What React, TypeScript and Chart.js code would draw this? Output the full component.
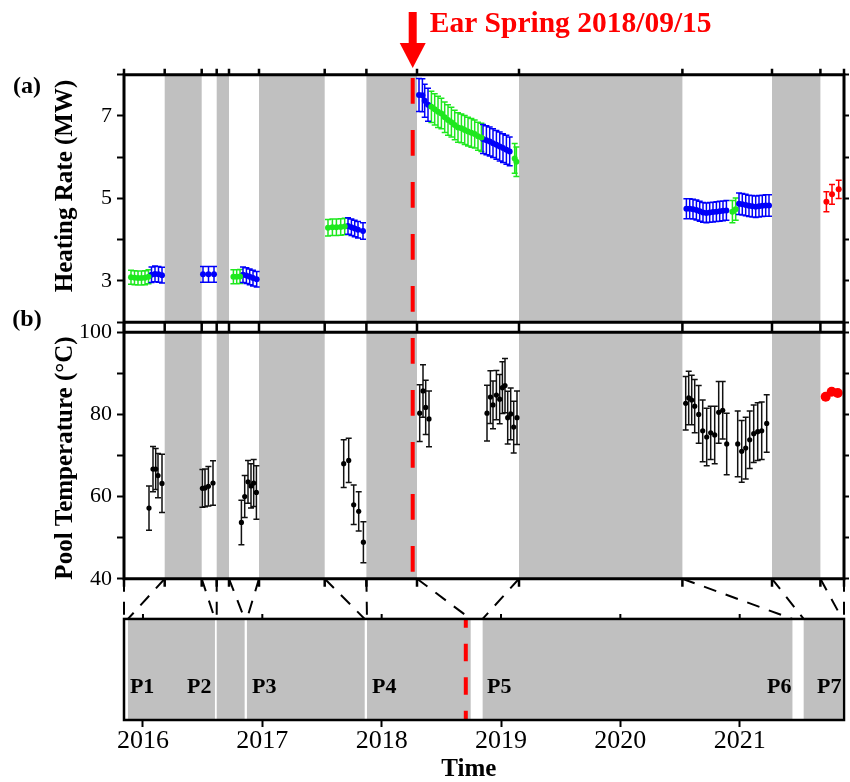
import React, { useEffect, useRef } from 'react';
import { Chart, registerables } from 'chart.js';

Chart.register(...registerables);

const FONT = "'Liberation Serif', 'Times New Roman', serif";

// ---- periods: compressed axis (panels a, b) and real time axis (decimal years)
const periodNames = ['P1', 'P2', 'P3', 'P4', 'P5', 'P6', 'P7'];
const periodCompStart = [0, 77.7, 105, 200.7, 293, 558.4, 696.4];
const periodCompEnd = [40.7, 92.7, 135, 242.4, 395, 648, 720];
const periodYearStart = [2015.841, 2016.603, 2016.852, 2017.858, 2018.746, 2021.442, 2021.86];
const periodYearEnd = [2015.874, 2016.618, 2016.871, 2017.877, 2018.846, 2021.536, 2021.874];
const periodLabelYear = [2015.993, 2016.471, 2017.016, 2018.021, 2018.985, 2021.331, 2021.75];
const periodLabelLevel = 0.32;
const compMin = 0;
const compMax = 720;
const yearMin = 2015.841;
const yearMax = 2021.874;
const timeTitleYear = 2018.73;
const earSpringComp = 288.7;
const earSpringYear = 2018.705;
const earSpringLabel = 'Ear Spring 2018/09/15';

// ---- panel (a) heating rate (MW)
const aGreenX = [7, 10.5, 14, 17.5, 21, 24.5, 109.4, 112.7, 116, 204, 208.4, 212.4, 216.7, 220.7,
  307.4, 310.7, 314, 317.4, 320.7, 324, 327.4, 330.7, 334, 337.4, 340.7, 344, 347.4, 350.7, 354, 357.4,
  390.7, 392.4, 608.4, 611.7];
const aGreenY = [3.09, 3.08, 3.07, 3.07, 3.08, 3.1, 3.1, 3.1, 3.11, 4.29, 4.3, 4.3, 4.31, 4.32,
  7.22, 7.16, 7.1, 7.06, 6.97, 6.9, 6.85, 6.78, 6.72, 6.7, 6.66, 6.62, 6.59, 6.56, 6.51, 6.48,
  5.97, 5.89, 4.68, 4.74];
const aGreenErr = [0.17, 0.17, 0.17, 0.17, 0.17, 0.17, 0.17, 0.17, 0.17, 0.2, 0.2, 0.2, 0.2, 0.2,
  0.38, 0.38, 0.38, 0.37, 0.37, 0.37, 0.36, 0.36, 0.36, 0.35, 0.35, 0.35, 0.35, 0.34, 0.34, 0.34,
  0.36, 0.36, 0.27, 0.27];

const aBlueX = [27.5, 31, 34.5, 38, 79, 84.5, 90, 119, 122.4, 125.7, 129, 132.7, 224, 227.4, 230.7, 234, 239,
  295, 298.4, 300.7, 304, 359, 362.4, 365.7, 369, 372.4, 375.7, 379, 382.4, 385.7,
  562.4, 565.7, 569, 572.4, 575.7, 579, 582.4, 585.7, 589, 592.4, 595.7, 599, 602.4,
  615, 618.3, 621.7, 625, 628.3, 631.7, 635, 638.3, 641.7, 645];
const aBlueY = [3.15, 3.17, 3.16, 3.14, 3.16, 3.16, 3.16, 3.15, 3.13, 3.1, 3.07, 3.04, 4.33, 4.3, 4.27, 4.24, 4.21,
  7.51, 7.5, 7.37, 7.27, 6.44, 6.41, 6.38, 6.34, 6.3, 6.26, 6.22, 6.18, 6.14,
  4.75, 4.75, 4.74, 4.72, 4.69, 4.66, 4.65, 4.66, 4.67, 4.68, 4.69, 4.7, 4.71,
  4.87, 4.86, 4.84, 4.82, 4.81, 4.8, 4.81, 4.82, 4.83, 4.83];
const aBlueErr = [0.19, 0.19, 0.19, 0.19, 0.19, 0.19, 0.19, 0.19, 0.19, 0.19, 0.19, 0.19, 0.2, 0.2, 0.2, 0.2, 0.2,
  0.4, 0.4, 0.4, 0.4, 0.35, 0.35, 0.35, 0.35, 0.35, 0.35, 0.35, 0.35, 0.35,
  0.24, 0.24, 0.24, 0.24, 0.24, 0.24, 0.24, 0.24, 0.24, 0.24, 0.24, 0.24, 0.24,
  0.26, 0.26, 0.26, 0.26, 0.26, 0.26, 0.26, 0.26, 0.26, 0.26];

const aRedX = [702.4, 708, 714.7];
const aRedY = [4.92, 5.1, 5.22];
const aRedErr = [0.24, 0.24, 0.22];

// ---- panel (b) pool temperature (°C)
const bX = [25, 29, 31.7, 34, 38, 78.4, 81, 84.4, 89, 117.4, 120.7, 124, 127, 129.7, 132.4,
  219.7, 224.7, 229.7, 234.7, 239.4, 295.7, 299, 301.7, 305,
  363, 366.4, 369, 372.4, 375.7, 378.4, 381, 383.7, 386.7, 389.7, 393,
  561.7, 564.7, 567.7, 570.7, 574.7, 578.7, 582.7, 586.7, 590.7, 594.7, 598.7, 602.7,
  613.7, 617.7, 621.7, 625.7, 629.7, 633.7, 637.7, 642.7];
const bY = [57.2, 66.7, 66.7, 65.1, 63.2, 62.0, 62.1, 62.5, 63.3, 53.7, 60.0, 63.6, 62.6, 63.3, 61.0,
  68.0, 68.8, 58.0, 56.4, 48.9, 80.3, 85.7, 81.7, 78.9,
  80.3, 84.2, 82.3, 84.7, 83.7, 86.5, 87.0, 79.2, 80.1, 76.9, 79.2,
  82.7, 84.0, 83.5, 82.0, 80.0, 76.0, 74.5, 75.5, 75.0, 80.5, 81.0, 72.8,
  72.8, 71.0, 71.8, 73.8, 75.3, 75.8, 76.0, 77.8];
const bErr = [5.4, 5.5, 5.0, 5.4, 7.1, 4.6, 4.6, 4.8, 5.4, 5.4, 5.1, 5.2, 5.4, 5.7, 6.5,
  5.8, 5.4, 4.8, 4.8, 5.0, 6.9, 6.4, 6.6, 6.8,
  6.8, 6.4, 5.8, 6.0, 6.0, 6.3, 6.6, 6.4, 6.3, 6.3, 6.5,
  6.5, 6.5, 6.0, 6.5, 7.0, 7.5, 7.0, 6.5, 7.0, 7.5, 7.0, 7.5,
  8.0, 7.5, 7.5, 7.0, 7.0, 7.0, 7.0, 7.0];
const bRedX = [701.7, 707.7, 713.7];
const bRedY = [84.3, 85.5, 85.2];

const GRAY = 'rgb(192,192,192)';
const GREEN = 'rgb(30,232,30)';
const BLUE = 'rgb(0,0,250)';
const RED = 'rgb(255,0,0)';

const pts = (xs: number[], ys: number[]) => xs.map((x, i) => ({ x, y: ys[i] }));

const drawPlugin = {
  id: 'panelDecor',
  beforeDatasetsDraw(chart: any) {
    const ctx = chart.ctx;
    const xs = chart.scales.x, x2 = chart.scales.x2;
    const ya = chart.scales.ya, yb = chart.scales.yb, yc = chart.scales.yc;
    const L = chart.chartArea.left, R = chart.chartArea.right;
    ctx.save();
    // gray gaps between periods (compressed panels)
    ctx.fillStyle = GRAY;
    for (let i = 0; i < periodCompStart.length - 1; i++) {
      const a = xs.getPixelForValue(periodCompEnd[i]);
      const b = xs.getPixelForValue(periodCompStart[i + 1]);
      for (const s of [ya, yb]) ctx.fillRect(a, s.top, b - a, s.bottom - s.top);
    }
    // timeline
    ctx.fillRect(L, yc.top, R - L, yc.bottom - yc.top);
    ctx.fillStyle = '#fff';
    for (let i = 0; i < periodYearStart.length; i++) {
      const a = x2.getPixelForValue(periodYearStart[i]);
      const b = x2.getPixelForValue(periodYearEnd[i]);
      ctx.fillRect(a, yc.top, b - a, yc.bottom - yc.top);
    }
    // red dashed: panels
    ctx.strokeStyle = RED;
    ctx.lineWidth = 4;
    ctx.setLineDash([25.7, 26.3]);
    ctx.lineDashOffset = 48.7;
    const xe = xs.getPixelForValue(earSpringComp);
    ctx.beginPath();
    ctx.moveTo(xe, ya.top);
    ctx.lineTo(xe, yb.bottom);
    ctx.stroke();
    // red dashed: timeline
    ctx.setLineDash([17.5, 16]);
    ctx.lineDashOffset = 8.7;
    const xt = x2.getPixelForValue(earSpringYear);
    ctx.beginPath();
    ctx.moveTo(xt, yc.top);
    ctx.lineTo(xt, yc.bottom);
    ctx.stroke();
    ctx.setLineDash([]);
    // error bars
    chart.data.datasets.forEach((ds: any, i: number) => {
      if (!ds.errors) return;
      const meta = chart.getDatasetMeta(i);
      const ys = chart.scales[ds.yAxisID];
      ctx.strokeStyle = ds.errColor;
      ctx.lineWidth = 1.5;
      ctx.beginPath();
      meta.data.forEach((p: any, j: number) => {
        const v = ds.data[j].y, e = ds.errors[j];
        const t = ys.getPixelForValue(v + e), b = ys.getPixelForValue(v - e);
        ctx.moveTo(p.x, t); ctx.lineTo(p.x, b);
        ctx.moveTo(p.x - 3, t); ctx.lineTo(p.x + 3, t);
        ctx.moveTo(p.x - 3, b); ctx.lineTo(p.x + 3, b);
      });
      ctx.stroke();
    });
    // period labels
    ctx.fillStyle = '#000';
    ctx.font = `bold 22px ${FONT}`;
    ctx.textAlign = 'center';
    ctx.textBaseline = 'middle';
    periodNames.forEach((n, i) => {
      ctx.fillText(n, x2.getPixelForValue(periodLabelYear[i]), yc.getPixelForValue(periodLabelLevel));
    });
    ctx.restore();
  },
  afterDraw(chart: any) {
    const ctx = chart.ctx;
    const xs = chart.scales.x, x2 = chart.scales.x2;
    const ya = chart.scales.ya, yb = chart.scales.yb, yc = chart.scales.yc;
    const L = chart.chartArea.left, R = chart.chartArea.right;
    ctx.save();
    ctx.strokeStyle = '#000';
    // panel frames
    ctx.lineWidth = 3;
    ctx.beginPath();
    ctx.moveTo(L, ya.top); ctx.lineTo(L, yb.bottom);
    ctx.moveTo(R, ya.top); ctx.lineTo(R, yb.bottom);
    for (const y of [ya.top, ya.bottom, yb.top, yb.bottom]) { ctx.moveTo(L - 1.5, y); ctx.lineTo(R + 1.5, y); }
    ctx.stroke();
    // period boundary ticks
    ctx.lineWidth = 2.5;
    ctx.beginPath();
    const bounds = periodCompStart.concat(periodCompEnd);
    for (const c of bounds) {
      const px = xs.getPixelForValue(c);
      ctx.moveTo(px, ya.top - 6); ctx.lineTo(px, ya.top);
      ctx.moveTo(px, ya.bottom); ctx.lineTo(px, ya.bottom + 5);
      ctx.moveTo(px, yb.top - 5); ctx.lineTo(px, yb.top);
      ctx.moveTo(px, yb.bottom); ctx.lineTo(px, yb.bottom + 8);
    }
    ctx.stroke();
    // timeline frame
    ctx.lineWidth = 2.5;
    ctx.strokeRect(L, yc.top, R - L, yc.bottom - yc.top);
    ctx.lineWidth = 2;
    ctx.beginPath();
    for (const t of x2.ticks) {
      const px = x2.getPixelForValue(t.value);
      ctx.moveTo(px, yc.top - 5); ctx.lineTo(px, yc.top);
    }
    ctx.stroke();
    // connectors
    ctx.lineWidth = 2;
    ctx.setLineDash([13, 10]);
    ctx.beginPath();
    for (let i = 0; i < periodCompStart.length; i++) {
      ctx.moveTo(xs.getPixelForValue(periodCompStart[i]), yb.bottom);
      ctx.lineTo(x2.getPixelForValue(periodYearStart[i]), yc.top);
      ctx.moveTo(xs.getPixelForValue(periodCompEnd[i]), yb.bottom);
      ctx.lineTo(x2.getPixelForValue(periodYearEnd[i]), yc.top);
    }
    ctx.stroke();
    ctx.setLineDash([]);
    // arrow + annotation
    const xe = xs.getPixelForValue(earSpringComp);
    ctx.fillStyle = RED;
    ctx.fillRect(xe - 4, 12, 8, 32);
    ctx.beginPath();
    ctx.moveTo(xe - 13, 43); ctx.lineTo(xe + 13, 43); ctx.lineTo(xe, 68); ctx.closePath();
    ctx.fill();
    ctx.font = `bold 29.5px ${FONT}`;
    ctx.textAlign = 'left';
    ctx.textBaseline = 'alphabetic';
    ctx.fillText(earSpringLabel, xe + 17, 32);
    // panel letters
    ctx.fillStyle = '#000';
    ctx.font = `bold 24px ${FONT}`;
    ctx.textAlign = 'center';
    ctx.textBaseline = 'middle';
    ctx.fillText('(a)', 27, 87);
    ctx.fillText('(b)', 27, 320);
    // x title
    ctx.font = `bold 25px ${FONT}`;
    ctx.fillText('Time', x2.getPixelForValue(timeTitleYear), 770);
    // y titles
    const vtitle = (text: string, x: number, y: number) => {
      ctx.save();
      ctx.translate(x, y);
      ctx.rotate(-Math.PI / 2);
      ctx.fillText(text, 0, 0);
      ctx.restore();
    };
    vtitle('Heating Rate (MW)', 66, 186);
    vtitle('Pool Temperature (\u00B0C)', 66, 458);
    ctx.restore();
  },
};

const fixW = (w: number) => (s: any) => { s.width = w; };
const hidden = { grid: { display: false }, ticks: { display: false }, border: { display: false } };
const tickGrid = (len: number) => ({ drawOnChartArea: false, drawTicks: true, tickLength: len, tickWidth: 2, tickColor: '#000' });

export default function App() {
  const ref = useRef<HTMLCanvasElement>(null);
  useEffect(() => {
    const canvas = ref.current;
    if (!canvas) return;
    Chart.defaults.font.family = FONT;
    Chart.defaults.color = '#000';
    const tickFont = { size: 22, lineHeight: 1 };
    const chart = new Chart(canvas, {
      type: 'scatter',
      data: {
        datasets: [
          { label: 'a-green', data: pts(aGreenX, aGreenY), errors: aGreenErr, errColor: GREEN, xAxisID: 'x', yAxisID: 'ya',
            pointRadius: 3, pointBackgroundColor: GREEN, pointBorderWidth: 0, showLine: false } as any,
          { label: 'a-blue', data: pts(aBlueX, aBlueY), errors: aBlueErr, errColor: BLUE, xAxisID: 'x', yAxisID: 'ya',
            pointRadius: 3, pointBackgroundColor: BLUE, pointBorderWidth: 0, showLine: false } as any,
          { label: 'a-red', data: pts(aRedX, aRedY), errors: aRedErr, errColor: RED, xAxisID: 'x', yAxisID: 'ya',
            pointRadius: 3, pointBackgroundColor: RED, pointBorderWidth: 0, showLine: false } as any,
          { label: 'b-black', data: pts(bX, bY), errors: bErr, errColor: '#111', xAxisID: 'x', yAxisID: 'yb',
            pointRadius: 2.6, pointBackgroundColor: '#000', pointBorderWidth: 0, showLine: false } as any,
          { label: 'b-red', data: pts(bRedX, bRedY), xAxisID: 'x', yAxisID: 'yb',
            pointRadius: 5, pointBackgroundColor: RED, pointBorderWidth: 0, showLine: false } as any,
        ],
      },
      options: {
        responsive: false,
        animation: false,
        devicePixelRatio: 1,
        events: [],
        layout: { padding: { top: 74.7, left: 0, right: 0, bottom: 0 } },
        plugins: { legend: { display: false }, tooltip: { enabled: false } },
        scales: {
          x: { type: 'linear', position: 'bottom', display: false, min: compMin, max: compMax },
          x2: {
            type: 'linear', position: 'bottom', min: yearMin, max: yearMax,
            afterFit: (s: any) => { s.height = 62; },
            border: { display: false }, grid: tickGrid(7),
            ticks: { stepSize: 1, includeBounds: false, padding: 1, color: '#000', font: { size: 26, lineHeight: 1 },
              maxRotation: 0, autoSkip: false, callback: (v: any) => String(v) },
          },
          ya: {
            type: 'linear', position: 'left', stack: 'L', stackWeight: 247.6, weight: 5, min: 2, max: 8,
            afterFit: fixW(124), border: { display: false }, grid: tickGrid(7),
            ticks: { stepSize: 1, autoSkip: false, padding: 5, color: '#000', font: tickFont,
              callback: (v: any) => (Math.round(v) % 2 === 1 ? String(v) : '') },
          },
          g1: { type: 'linear', position: 'left', stack: 'L', stackWeight: 10, weight: 4, min: 0, max: 1, afterFit: fixW(124), ...hidden },
          yb: {
            type: 'linear', position: 'left', stack: 'L', stackWeight: 246.7, weight: 3, min: 40, max: 100,
            afterFit: fixW(124), border: { display: false }, grid: tickGrid(7),
            ticks: { stepSize: 10, autoSkip: false, padding: 5, color: '#000', font: tickFont,
              callback: (v: any) => (Math.round(v) % 20 === 0 ? String(v) : '') },
          },
          g2: { type: 'linear', position: 'left', stack: 'L', stackWeight: 40.2, weight: 2, min: 0, max: 1, afterFit: fixW(124), ...hidden },
          yc: { type: 'linear', position: 'left', stack: 'L', stackWeight: 101.1, weight: 1, min: 0, max: 1, afterFit: fixW(124), ...hidden },
          yaR: {
            type: 'linear', position: 'right', stack: 'R', stackWeight: 247.6, weight: 1, min: 2, max: 8,
            afterFit: fixW(6), border: { display: false }, grid: tickGrid(5), ticks: { display: false, autoSkip: false, stepSize: 1 },
          },
          g1R: { type: 'linear', position: 'right', stack: 'R', stackWeight: 10, weight: 2, min: 0, max: 1, afterFit: fixW(6), ...hidden },
          ybR: {
            type: 'linear', position: 'right', stack: 'R', stackWeight: 246.7, weight: 3, min: 40, max: 100,
            afterFit: fixW(6), border: { display: false }, grid: tickGrid(5), ticks: { display: false, autoSkip: false, stepSize: 10 },
          },
          g2R: { type: 'linear', position: 'right', stack: 'R', stackWeight: 40.2, weight: 4, min: 0, max: 1, afterFit: fixW(6), ...hidden },
          ycR: { type: 'linear', position: 'right', stack: 'R', stackWeight: 101.1, weight: 5, min: 0, max: 1, afterFit: fixW(6), ...hidden },
        },
      } as any,
      plugins: [drawPlugin],
    });
    return () => chart.destroy();
  }, []);
  return (
    <div style={{ position: 'absolute', left: 0, top: 0, width: 850, height: 782, background: '#fff' }}>
      <canvas ref={ref} width={850} height={782} style={{ display: 'block', width: 850, height: 782 }} />
    </div>
  );
}
